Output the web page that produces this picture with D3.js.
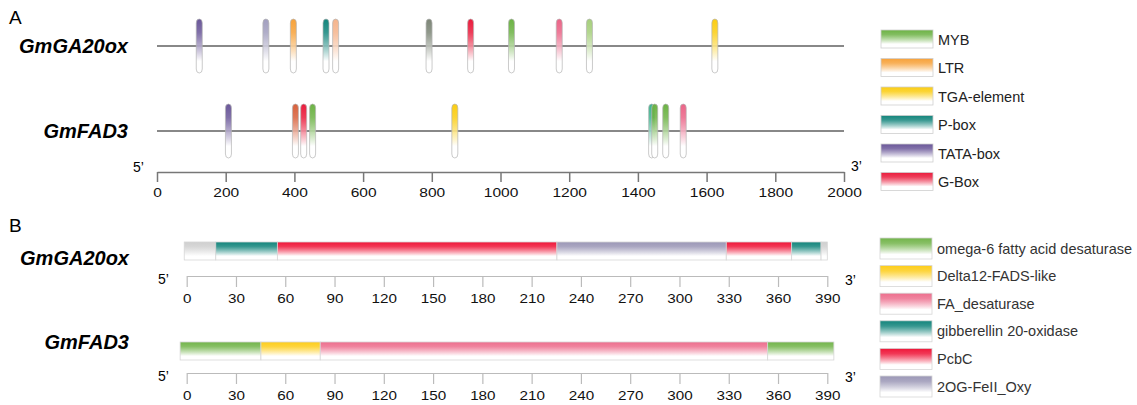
<!DOCTYPE html>
<html>
<head>
<meta charset="utf-8">
<script src="https://cdn.jsdelivr.net/npm/d3@7"></script>
<style>
  body { margin: 0; background: #fff; }
  text { font-family: "Liberation Sans", Arial, sans-serif; }
</style>
</head>
<body>
<div id="chart"></div>
<script>
// ---- data ----
var promoterGenes = ["GmGA20ox", "GmFAD3"];
var elementLegend = ["MYB", "LTR", "TGA-element", "P-box", "TATA-box", "G-Box"];
// cis-element sites: [position (bp), element]
var ga20oxSites = [[123, "TATA-box"], [317, "other-lavender"], [397, "LTR"], [492, "P-box"], [520, "other-peach"],
  [792, "other-grey"], [913, "G-Box"], [1032, "MYB"], [1171, "other-pink"], [1259, "other-lightgreen"], [1624, "TGA-element"]];
var fad3Sites = [[208, "TATA-box"], [403, "other-orangered"], [427, "G-Box"], [453, "MYB"], [867, "TGA-element"],
  [1440, "other-seagreen"], [1449, "MYB"], [1481, "MYB"], [1532, "other-pink"]];
var promoterTicks = [0, 200, 400, 600, 800, 1000, 1200, 1400, 1600, 1800, 2000];

var proteinGenes = ["GmGA20ox", "GmFAD3"];
var domainLegend = ["omega-6 fatty acid desaturase", "Delta12-FADS-like", "FA_desaturase", "gibberellin 20-oxidase", "PcbC", "2OG-FeII_Oxy"];
// domains: [start aa, end aa, domain]
var ga20oxDomains = [[-1.5, 17.7, "none"], [17.7, 55.2, "gibberellin 20-oxidase"], [55.2, 225.4, "PcbC"],
  [225.4, 328.5, "2OG-FeII_Oxy"], [328.5, 368.3, "PcbC"], [368.3, 386.2, "gibberellin 20-oxidase"], [386.2, 390, "none"]];
var fad3Domains = [[-4, 45.2, "omega-6 fatty acid desaturase"], [45.2, 81.3, "Delta12-FADS-like"],
  [81.3, 353.7, "FA_desaturase"], [353.7, 394, "omega-6 fatty acid desaturase"]];
var proteinTicks = [0, 30, 60, 90, 120, 150, 180, 210, 240, 270, 300, 330, 360, 390];

// ---- colours ----
var colorOf = {
  "MYB": "#6cb244", "LTR": "#f7a23a", "TGA-element": "#fbcd12", "P-box": "#13857c",
  "TATA-box": "#6a5799", "G-Box": "#ea1b3c",
  "other-lavender": "#a29fbf", "other-peach": "#f5b48c", "other-grey": "#7d8677",
  "other-pink": "#eb6487", "other-lightgreen": "#a6cf7c", "other-orangered": "#d8613c", "other-seagreen": "#3db48f",
  "omega-6 fatty acid desaturase": "#72b44a", "Delta12-FADS-like": "#fdcd1a", "FA_desaturase": "#ed6e8d",
  "gibberellin 20-oxidase": "#13857c", "PcbC": "#ef1538", "2OG-FeII_Oxy": "#9b97b6", "none": "#cfcfcf"
};

var FONT = "'Liberation Sans', Arial, sans-serif";
var W = 1137, H = 405;
var svg = d3.select("#chart").append("svg").attr("width", W).attr("height", H);
var defs = svg.append("defs");

// one vertical fade-to-white gradient per colour key
var keys = Object.keys(colorOf);
keys.forEach(function(k, i) {
  var g = defs.append("linearGradient").attr("id", "gr" + i)
    .attr("x1", 0).attr("y1", 0).attr("x2", 0).attr("y2", 1);
  g.append("stop").attr("offset", "0%").attr("stop-color", colorOf[k]);
  g.append("stop").attr("offset", "25%").attr("stop-color", colorOf[k]).attr("stop-opacity", 0.85);
  g.append("stop").attr("offset", "78%").attr("stop-color", "#fff");
  g.append("stop").attr("offset", "100%").attr("stop-color", "#fff");
});
function fill(k) { return "url(#gr" + keys.indexOf(k) + ")"; }

// ---------------------------//
//     PANEL A  promoters     //
// ---------------------------//
var xA = d3.scaleLinear().domain([0, 2000]).range([157, 844]);
var yA = d3.scalePoint().domain(promoterGenes).range([46, 131]);
var siteData = { "GmGA20ox": ga20oxSites, "GmFAD3": fad3Sites };

svg.append("text").attr("x", 9).attr("y", 24).style("font-size", "19px").text("A");

promoterGenes.forEach(function(gene) {
  var yc = yA(gene);
  svg.append("text").attr("x", 128).attr("y", yc + 7).attr("text-anchor", "end")
    .style("font-size", "20px").style("font-weight", "bold").style("font-style", "italic").text(gene);
  svg.append("line").attr("x1", xA(0)).attr("x2", xA(2000)).attr("y1", yc).attr("y2", yc)
    .attr("stroke", "#888").attr("stroke-width", 2.2);
  svg.append("g").selectAll("rect").data(siteData[gene]).enter().append("rect")
    .attr("x", function(d) { return xA(d[0]) - 3; })
    .attr("y", yc - 27).attr("width", 6).attr("height", 54)
    .attr("rx", 3).attr("ry", 4)
    .attr("fill", function(d) { return fill(d[1]); })
    .attr("stroke", "#b5b5b5").attr("stroke-width", 0.7);
});

var axA = svg.append("g").attr("transform", "translate(0,172)")
  .call(d3.axisBottom(xA).tickValues(promoterTicks).tickFormat(d3.format("d"))
    .tickSize(10).tickSizeOuter(0).tickPadding(5));
axA.attr("font-family", FONT);
axA.select(".domain").attr("stroke", "#777").attr("stroke-width", 1.5);
axA.selectAll(".tick line").attr("stroke", "#777").attr("stroke-width", 1.5);
axA.selectAll(".tick text").style("font-size", "13.5px").attr("fill", "#111")
  .attr("transform", "scale(1.15,1)");
svg.append("text").attr("x", 133).attr("y", 172).style("font-size", "14px").text("5\u2019");
svg.append("text").attr("x", 851).attr("y", 171).style("font-size", "14px").text("3\u2019");

// legend A
var lyA = d3.scalePoint().domain(elementLegend).range([30, 172.5]);
var legA = svg.append("g").selectAll("g").data(elementLegend).enter().append("g")
  .attr("transform", function(d) { return "translate(881," + lyA(d) + ")"; });
legA.append("rect").attr("width", 52).attr("height", 18)
  .attr("fill", function(d) { return fill(d); }).attr("stroke", "#cfcfcf").attr("stroke-width", 0.8);
legA.append("text").attr("x", 57).attr("y", 14.5).style("font-size", "14.5px").attr("fill", "#222")
  .text(function(d) { return d; });

// ---------------------------//
//     PANEL B  proteins      //
// ---------------------------//
var xB = d3.scaleLinear().domain([0, 390]).range([186.7, 827.3]);
var yB = d3.scalePoint().domain(proteinGenes).range([242, 342]);
var domData = { "GmGA20ox": ga20oxDomains, "GmFAD3": fad3Domains };
var labelY = { "GmGA20ox": 265, "GmFAD3": 349 };
var axisY = { "GmGA20ox": 276, "GmFAD3": 373 };

svg.append("text").attr("x", 9).attr("y", 232).style("font-size", "19px").text("B");

proteinGenes.forEach(function(gene) {
  var top = yB(gene);
  svg.append("text").attr("x", 129).attr("y", labelY[gene]).attr("text-anchor", "end")
    .style("font-size", "20px").style("font-weight", "bold").style("font-style", "italic").text(gene);
  svg.append("g").selectAll("rect").data(domData[gene]).enter().append("rect")
    .attr("x", function(d) { return xB(d[0]); })
    .attr("width", function(d) { return xB(d[1]) - xB(d[0]); })
    .attr("y", top).attr("height", 18)
    .attr("fill", function(d) { return fill(d[2]); })
    .attr("stroke", "#d6d6d6").attr("stroke-width", 0.8);

  var ay = axisY[gene];
  var ax = svg.append("g").attr("transform", "translate(0," + ay + ")")
    .call(d3.axisBottom(xB).tickValues(proteinTicks).tickSize(11).tickSizeOuter(0).tickPadding(7));
  ax.attr("font-family", FONT);
  ax.select(".domain").attr("stroke", "#bbb").attr("stroke-width", 1.2);
  ax.selectAll(".tick line").attr("stroke", "#bbb").attr("stroke-width", 1.2);
  ax.selectAll(".tick text").style("font-size", "12.5px").attr("fill", "#111")
    .attr("transform", "scale(1.22,1)");
  svg.append("text").attr("x", 158).attr("y", ay + 8).style("font-size", "14px").text("5\u2019");
  svg.append("text").attr("x", 845).attr("y", ay + 9).style("font-size", "14px").text("3\u2019");
});

// legend B
var lyB = d3.scalePoint().domain(domainLegend).range([238, 376]);
var legB = svg.append("g").selectAll("g").data(domainLegend).enter().append("g")
  .attr("transform", function(d) { return "translate(880," + lyB(d) + ")"; });
legB.append("rect").attr("width", 52).attr("height", 21)
  .attr("fill", function(d) { return fill(d); }).attr("stroke", "#d6d6d6").attr("stroke-width", 0.8);
legB.append("text").attr("x", 57).attr("y", 15.5).style("font-size", "14.5px").attr("fill", "#333")
  .text(function(d) { return d; });
</script>
</body>
</html>
